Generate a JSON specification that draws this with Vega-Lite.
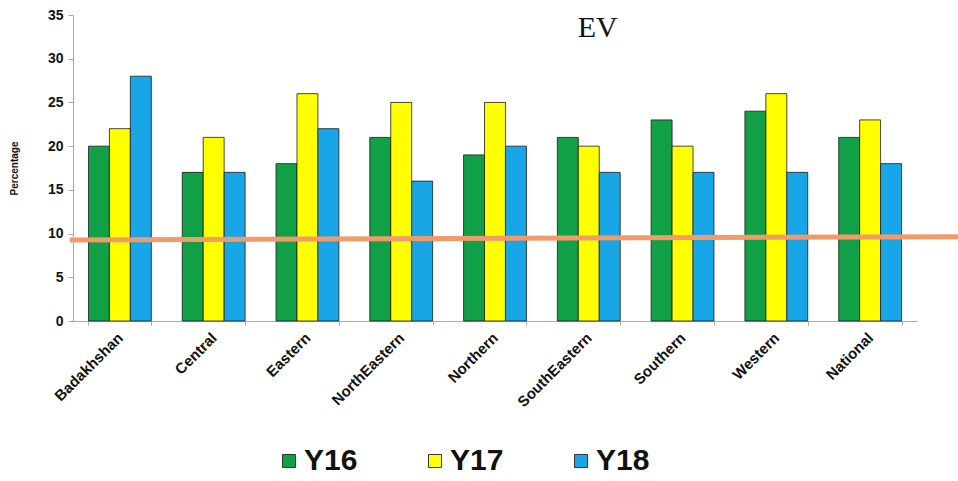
{
  "$schema": "https://vega.github.io/schema/vega-lite/v6.json",
  "width": 844,
  "height": 306,
  "autosize": {"type": "none"},
  "padding": {"left": 73, "top": 15, "right": 41, "bottom": 160},
  "background": "white",
  "config": {"view": {"stroke": null}, "font": "Liberation Sans"},
  "datasets": {
    "bars": [
      {"region": "Badakhshan", "year": "Y16", "value": 20},
      {"region": "Badakhshan", "year": "Y17", "value": 22},
      {"region": "Badakhshan", "year": "Y18", "value": 28},
      {"region": "Central", "year": "Y16", "value": 17},
      {"region": "Central", "year": "Y17", "value": 21},
      {"region": "Central", "year": "Y18", "value": 17},
      {"region": "Eastern", "year": "Y16", "value": 18},
      {"region": "Eastern", "year": "Y17", "value": 26},
      {"region": "Eastern", "year": "Y18", "value": 22},
      {"region": "NorthEastern", "year": "Y16", "value": 21},
      {"region": "NorthEastern", "year": "Y17", "value": 25},
      {"region": "NorthEastern", "year": "Y18", "value": 16},
      {"region": "Northern", "year": "Y16", "value": 19},
      {"region": "Northern", "year": "Y17", "value": 25},
      {"region": "Northern", "year": "Y18", "value": 20},
      {"region": "SouthEastern", "year": "Y16", "value": 21},
      {"region": "SouthEastern", "year": "Y17", "value": 20},
      {"region": "SouthEastern", "year": "Y18", "value": 17},
      {"region": "Southern", "year": "Y16", "value": 23},
      {"region": "Southern", "year": "Y17", "value": 20},
      {"region": "Southern", "year": "Y18", "value": 17},
      {"region": "Western", "year": "Y16", "value": 24},
      {"region": "Western", "year": "Y17", "value": 26},
      {"region": "Western", "year": "Y18", "value": 17},
      {"region": "National", "year": "Y16", "value": 21},
      {"region": "National", "year": "Y17", "value": 23},
      {"region": "National", "year": "Y18", "value": 18}
    ],
    "line": [
      {"lx": -0.004, "ly": 9.27},
      {"lx": 1.05, "ly": 9.65}
    ],
    "label": [
      {"region": "SouthEastern", "value": 33.5, "text": "EV"}
    ]
  },
  "layer": [
    {
      "layer": [
        {
          "data": {"name": "bars"},
          "mark": {"type": "bar", "stroke": "#1a1a1a", "strokeWidth": 0.8},
          "encoding": {
            "x": {
              "field": "region", "type": "nominal",
              "sort": ["Badakhshan", "Central", "Eastern", "NorthEastern", "Northern", "SouthEastern", "Southern", "Western", "National"],
              "scale": {"paddingInner": 0.33, "paddingOuter": 0.165},
              "axis": {
                "title": null, "labelAngle": -45, "labelFontSize": 15, "labelFontWeight": "bold",
                "labelColor": "#111", "domainColor": "#aaa", "tickColor": "#aaa", "tickSize": 4,
                "tickBand": "extent", "labelPadding": 5, "labelOffset": -5
              }
            },
            "xOffset": {"field": "year", "type": "nominal", "scale": {"paddingInner": 0, "paddingOuter": 0}},
            "y": {
              "field": "value", "type": "quantitative",
              "scale": {"domain": [0, 35], "nice": false},
              "axis": {
                "title": "Percentage", "titleFontSize": 10, "titleFontWeight": "bold", "titleColor": "#111",
                "titlePadding": 28, "values": [0, 5, 10, 15, 20, 25, 30, 35], "grid": false,
                "labelFontSize": 14, "labelFontWeight": "bold", "labelColor": "#111",
                "domainColor": "#aaa", "tickColor": "#aaa", "tickSize": 5, "labelPadding": 5
              }
            },
            "color": {
              "field": "year", "type": "nominal",
              "scale": {"domain": ["Y16", "Y17", "Y18"], "range": ["#12A047", "#FFFF00", "#19A6E6"]},
              "legend": {
                "title": null, "orient": "none", "legendX": 201, "legendY": 431, "direction": "horizontal",
                "symbolType": "square", "symbolSize": 170, "symbolStrokeColor": "#333", "symbolStrokeWidth": 1,
                "symbolOpacity": 1,
                "labelFontSize": 30, "labelFontWeight": "bold", "labelColor": "#111",
                "labelOffset": 0, "columnPadding": 62
              }
            }
          }
        },
        {
          "data": {"name": "label"},
          "mark": {"type": "text", "font": "Liberation Serif", "fontSize": 30, "color": "#111", "dx": 9},
          "encoding": {
            "x": {"field": "region", "type": "nominal", "sort": ["Badakhshan", "Central", "Eastern", "NorthEastern", "Northern", "SouthEastern", "Southern", "Western", "National"]},
            "y": {"field": "value", "type": "quantitative"},
            "text": {"field": "text"}
          }
        }
      ]
    },
    {
      "data": {"name": "line"},
      "mark": {"type": "line", "color": "#F39A6B", "strokeWidth": 5, "clip": false},
      "encoding": {
        "x": {"field": "lx", "type": "quantitative", "scale": {"domain": [0, 1], "nice": false, "zero": false}, "axis": null},
        "y": {"field": "ly", "type": "quantitative"}
      }
    }
  ],
  "resolve": {"scale": {"x": "independent"}}
}
